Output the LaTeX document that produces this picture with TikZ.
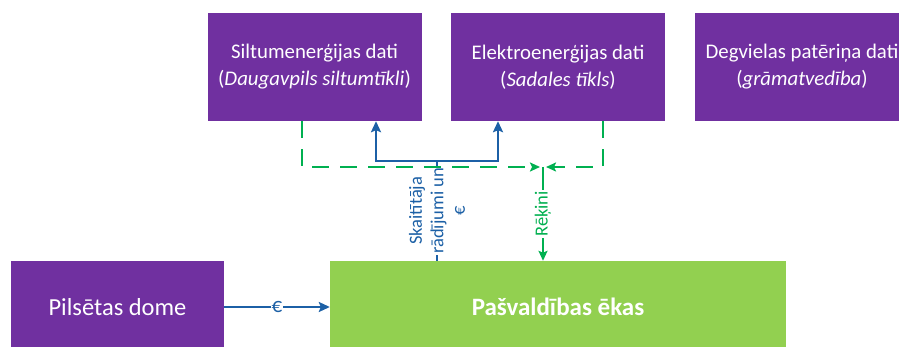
\documentclass[tikz,border=0pt]{standalone}
\usepackage{fontspec}
\setmainfont{Carlito}
\usetikzlibrary{arrows.meta}

\definecolor{lilla}{HTML}{7030A0}
\definecolor{gaiszals}{HTML}{92D050}
\definecolor{zals}{HTML}{00B050}
\definecolor{zils}{RGB}{28,96,166}

\tikzset{
  avots/.style={rectangle,fill=lilla,text=white,minimum width=214pt,minimum height=108pt,
    align=center,font=\fontsize{20.8}{27}\selectfont,inner sep=0pt},
  ekabox/.style={rectangle,fill=gaiszals,text=white,minimum width=456pt,minimum height=92pt,
    font=\fontsize{25}{30}\selectfont\bfseries,inner sep=0pt},
  domebox/.style={rectangle,fill=lilla,text=white,minimum width=213pt,minimum height=92pt,
    font=\fontsize{24.5}{29}\selectfont,inner sep=0pt},
  zilabulta/.style={draw=zils,line width=2.5pt,-{Stealth[length=11pt,width=10pt,inset=2pt]}},
  zalabulta/.style={draw=zals,line width=2.2pt,-{Stealth[length=10pt,width=9pt,inset=2pt]}},
  zaladash/.style={zalabulta,dash pattern=on 17pt off 11pt},
  uzraksts/.style={fill=white,inner sep=1pt,font=\fontsize{18.5}{21.5}\selectfont,align=center}
}

\begin{document}
\begin{tikzpicture}[x=1pt,y=-1pt]
\useasboundingbox (0,0) rectangle (899,347);
% datu avoti
\node [avots] (siltums) at (314.5,67) {Siltumenerģijas dati\\(\textit{Daugavpils siltumtīkli})};
\node [avots] (elektro) at (558,67) {Elektroenerģijas dati\\(\textit{Sadales tīkls})};
\node [avots] (degviela) at (802,67) {Degvielas patēriņa dati\\(\textit{grāmatvedība})};
% apakša
\node [domebox] (dome) at (117.5,307) {Pilsētas dome};
\node [ekabox] (ekas) at (558,307) {Pašvaldības ēkas};
\coordinate (dalijums) at (437,161);
\coordinate (rekini) at (543,167);

\draw [zilabulta] (dome) -- node[uzraksts,text=zils]{\fontsize{21}{24}\selectfont €} (ekas);
\draw [draw=zils,line width=2.5pt] ([xshift=-121pt]ekas.north) -- node[uzraksts,text=zils,rotate=90]{Skaitītāja\\rādījumi un\\€} (dalijums);
\draw [zilabulta] (dalijums) -| ([xshift=61.5pt]siltums.south);
\draw [zilabulta] (dalijums) -| ([xshift=-60pt]elektro.south);

\draw [zaladash] ([xshift=-12.5pt]siltums.south) |- ([xshift=-3pt]rekini);
\draw [zaladash] ([xshift=45pt]elektro.south) |- ([xshift=3pt]rekini);
\draw [zalabulta] (rekini) -- node[uzraksts,text=zals,rotate=90]{Rēķini} (rekini |- ekas.north);
\end{tikzpicture}
\end{document}
